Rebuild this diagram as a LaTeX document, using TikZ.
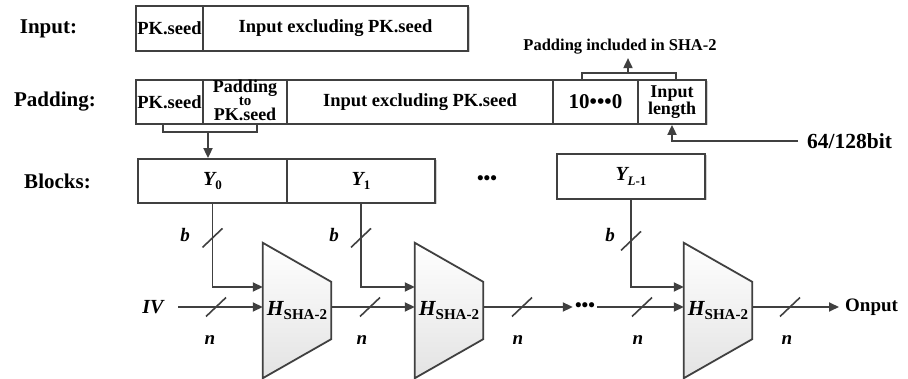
\documentclass[tikz,border=0pt]{standalone}
\usepackage{fontspec}
\setmainfont{Liberation Serif}
\usetikzlibrary{arrows.meta,calc,shadows}
\pgfdeclarelayer{bg}
\pgfsetlayers{bg,main}
\definecolor{linec}{HTML}{404040}
\newcommand\fsz[1]{\fontsize{#1}{#1}\selectfont}
\newcommand\subtxt[2]{\raisebox{-0.22em}{\fsz{#1}\upshape #2}}

\begin{document}
\begin{tikzpicture}[x=1pt,y=-1pt,
  line/.style={draw=linec, line width=1.8pt},
  arr/.style={line, -{Triangle[length=10pt,width=9pt]}},
  slashline/.style={draw=linec, line width=1.6pt},
  cell/.style={draw=linec, line width=1.8pt, fill=white, inner sep=0pt,
    font=\bfseries\fsz{18.5},
    drop shadow={opacity=0.18, fill=black, shadow xshift=1.5pt, shadow yshift=-1.5pt}},
  rowlab/.style={font=\bfseries\fsz{21}, inner sep=0pt},
  var/.style={font=\bfseries\itshape\fsz{19}, inner sep=1pt},
  hbox/.style={minimum width=68pt, minimum height=135pt, inner sep=0pt,
    font=\bfseries\itshape\fsz{21.5}},
  blk/.style={cell, font=\bfseries\fsz{20}},
  bus/.pic={\draw[slashline] (-10,9.5) -- (10,-9.5);}
]
\useasboundingbox (0,0) rectangle (908,379);

% row labels
\node[rowlab] (lin)  at (48.5,29)  {Input:};
\node[rowlab] (lpad) at (55,102)   {Padding:};
\node[rowlab] (lblk) at (57.5,181) {Blocks:};

% input message
\node[cell, minimum width=67pt,  minimum height=45pt] (in1) at (169.5,28.5) {PK.seed};
\node[cell, minimum width=265pt, minimum height=45pt] (in2) at (335.5,28.5) {Input excluding PK.seed};

% padded message
\node[cell, minimum width=67pt,  minimum height=44pt] (p1) at (169.5,102) {PK.seed};
\node[cell, minimum width=84pt,  minimum height=44pt] (p2) at (245,102) {};
\node[font=\bfseries\fsz{18}, anchor=base, inner sep=0pt] (p2a) at ($(p2.center)+(0,-9)$) {Padding};
\node[font=\bfseries\fsz{15}, anchor=base, inner sep=0pt] (p2b) at ($(p2.center)+(0,3.5)$) {to};
\node[font=\bfseries\fsz{18}, anchor=base, inner sep=0pt] (p2c) at ($(p2.center)+(0,19)$) {PK.seed};
\node[cell, minimum width=266pt, minimum height=44pt] (p3) at (420,102) {Input excluding PK.seed};
\node[cell, minimum width=85pt,  minimum height=44pt, font=\bfseries\fsz{21}] (p4) at (595.5,102) {10•••0};
\node[cell, minimum width=68pt,  minimum height=44pt, align=center,
      font=\bfseries\fontsize{18}{16}\selectfont] (p5) at (672,102) {Input\\length};

% SHA-2 padding bracket
\coordinate (tl) at (582,73);
\coordinate (tr) at (676,73);
\coordinate (tm) at (628,73);
\draw[line] (tl |- p4.north) -- (tl) -- (tr) -- (tr |- p5.north);
\node[font=\bfseries\fsz{16.5}] (pinc) at (620,47) {Padding included in SHA-2};
\draw[arr] (tm) -- (tm |- pinc.south);

% length field
\node[font=\bfseries\fsz{21.5}, anchor=west, inner sep=0pt] (bits) at (807,141) {64/128bit};
\draw[arr] ([xshift=-9pt]bits.west) -| (p5.south);

% PK.seed block bracket
\coordinate (bl) at (163,132);
\coordinate (br) at (257,132);
\coordinate (bm) at (208,132);
\draw[line] (bl |- p1.south) -- (bl) -- (br) -- (br |- p2.south);

% message blocks
\node[blk, minimum width=149pt, minimum height=44pt] (y0) at (212.5,181) {{\itshape Y}\subtxt{13}{0}};
\node[blk, minimum width=148pt, minimum height=44pt] (y1) at (361,181) {{\itshape Y}\subtxt{13}{1}};
\node[font=\bfseries\fsz{19}] (bdots) at (487,180) {•••};
\node[blk, minimum width=148pt, minimum height=45pt] (yl) at (631,176.5) {{\itshape Y}\subtxt{13}{{\itshape L}-1}};
\draw[arr] (bm) -- (bm |- y0.north);

% compression functions
\node[hbox] (h1) at (297,310.5) {H\subtxt{15}{SHA-2}};
\node[hbox] (h2) at (449,310.5) {H\subtxt{15}{SHA-2}};
\node[hbox] (h3) at (718,310.5) {H\subtxt{15}{SHA-2}};
\begin{pgfonlayer}{bg}
  \foreach \h in {h1,h2,h3}
    \shade[draw=linec, line width=1.8pt, top color=white, bottom color=gray!22]
      (\h.north west) -- ($(\h.north east)+(0,39)$) -- ($(\h.south east)+(0,-39)$)
      -- (\h.south west) -- cycle;
\end{pgfonlayer}

% block inputs
\draw[arr] (y0.south) |- ($(h1.west)+(0,-23.5)$);
\draw[arr] (y1.south) |- ($(h2.west)+(0,-23.5)$);
\draw[arr] (yl.south) |- ($(h3.west)+(0,-23.5)$);
\pic at ($(y0.south)+(0,34)$) {bus};
\pic at ($(y1.south)+(0,34)$) {bus};
\pic at ($(yl.south)+(0,41)$) {bus};
\node[var] (b0) at (185,235) {b};
\node[var] (b1) at (334,235) {b};
\node[var] (b2) at (610,235) {b};

% chaining values
\node[font=\bfseries\itshape\fsz{20}] (iv) at (153,307) {IV};
\node[font=\bfseries\fsz{19}, inner sep=2pt] (dots) at (585,307) {•••};
\node[font=\bfseries\fsz{19}, anchor=west, inner sep=0pt] (out) at (845,307) {Onput};
\draw[arr, shorten <=11pt] (iv.east) -- (iv.east -| h1.west);
\draw[arr] ($(h1.east)+(0,-3.5)$) -- ($(h2.west)+(0,-3.5)$);
\draw[arr] (h2.east |- dots.west) -- (dots.west);
\draw[arr] (dots.east) -- (dots.east -| h3.west);
\draw[arr] (h3.east |- out.west) -- ([xshift=-6pt]out.west);
\pic at (216,307) {bus};
\pic at (370,307) {bus};
\pic at (522,307) {bus};
\pic at (642,307) {bus};
\pic at (790,307) {bus};
\node[var] (n0) at (210,340) {n};
\node[var] (n1) at (362,340) {n};
\node[var] (n2) at (518,340) {n};
\node[var] (n3) at (638,340) {n};
\node[var] (n4) at (787,340) {n};
\end{tikzpicture}
\end{document}
